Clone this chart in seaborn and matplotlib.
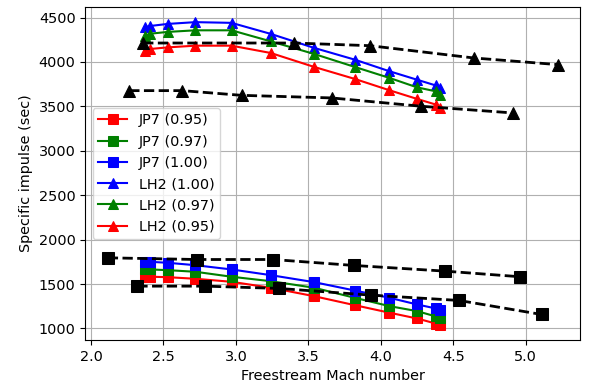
import matplotlib
matplotlib.use("Agg")
import matplotlib.pyplot as plt
import seaborn as sns
import pandas as pd

# Mach numbers shared by the JP7 / LH2 curves
mach = [2.37, 2.41, 2.53, 2.72, 2.97, 3.24, 3.54, 3.82, 4.06, 4.25, 4.38, 4.41]

jp7_095 = [1582, 1582, 1577, 1559, 1525, 1458, 1363, 1262, 1177, 1112, 1055, 1040]
jp7_097 = [1664, 1664, 1656, 1638, 1582, 1532, 1458, 1345, 1251, 1195, 1135, 1120]
jp7_100 = [1750, 1750, 1739, 1712, 1664, 1600, 1521, 1427, 1345, 1270, 1225, 1210]

lh2_100 = [4390, 4405, 4428, 4448, 4440, 4316, 4158, 4026, 3895, 3800, 3735, 3706]
lh2_097 = [4296, 4318, 4338, 4356, 4356, 4232, 4090, 3944, 3820, 3714, 3669, 3632]
lh2_095 = [4124, 4146, 4164, 4183, 4183, 4101, 3944, 3809, 3681, 3584, 3520, 3483]

# black dashed reference curves
tri_a_x = [2.36, 3.40, 3.925, 4.64, 5.22]
tri_a_y = [4213, 4213, 4183, 4045, 3970]
tri_b_x = [2.264, 2.63, 3.04, 3.66, 4.28, 4.91]
tri_b_y = [3677, 3677, 3624, 3595, 3501, 3426]
sq_a_x = [2.116, 2.73, 3.254, 3.815, 4.444, 4.96]
sq_a_y = [1795, 1776, 1776, 1709, 1645, 1582]
sq_b_x = [2.32, 2.79, 3.30, 3.93, 4.54, 5.11]
sq_b_y = [1476, 1476, 1450, 1375, 1315, 1157]

plt.rcParams["font.size"] = 10.4

fig = plt.figure(figsize=(5.89, 3.87), dpi=100)
ax = fig.add_axes([0.1448, 0.1214, 0.84, 0.8605])

series = [
    ("JP7 (0.95)", jp7_095, "red", "s"),
    ("JP7 (0.97)", jp7_097, "green", "s"),
    ("JP7 (1.00)", jp7_100, "blue", "s"),
    ("LH2 (1.00)", lh2_100, "blue", "^"),
    ("LH2 (0.97)", lh2_097, "green", "^"),
    ("LH2 (0.95)", lh2_095, "red", "^"),
]

for name, vals, col, mk in series:
    df = pd.DataFrame({"mach": mach, "isp": vals})
    sns.lineplot(data=df, x="mach", y="isp", ax=ax, color=col, marker=mk,
                 markersize=7, markeredgecolor=col, linewidth=1.5, label=name)

for xs, ys, mk in [(tri_a_x, tri_a_y, "^"), (tri_b_x, tri_b_y, "^"),
                   (sq_a_x, sq_a_y, "s"), (sq_b_x, sq_b_y, "s")]:
    sns.lineplot(x=xs, y=ys, ax=ax, color="black", marker=mk, markersize=8,
                 markeredgecolor="black", linestyle="--", linewidth=2)

ax.grid(True, color="#b0b0b0", linewidth=0.8)
ax.set_axisbelow(True)
ax.set_xlabel("Freestream Mach number")
ax.set_ylabel("Specific impulse (sec)")
ax.legend(loc="center left")

fig.savefig("out.png", dpi=100)
